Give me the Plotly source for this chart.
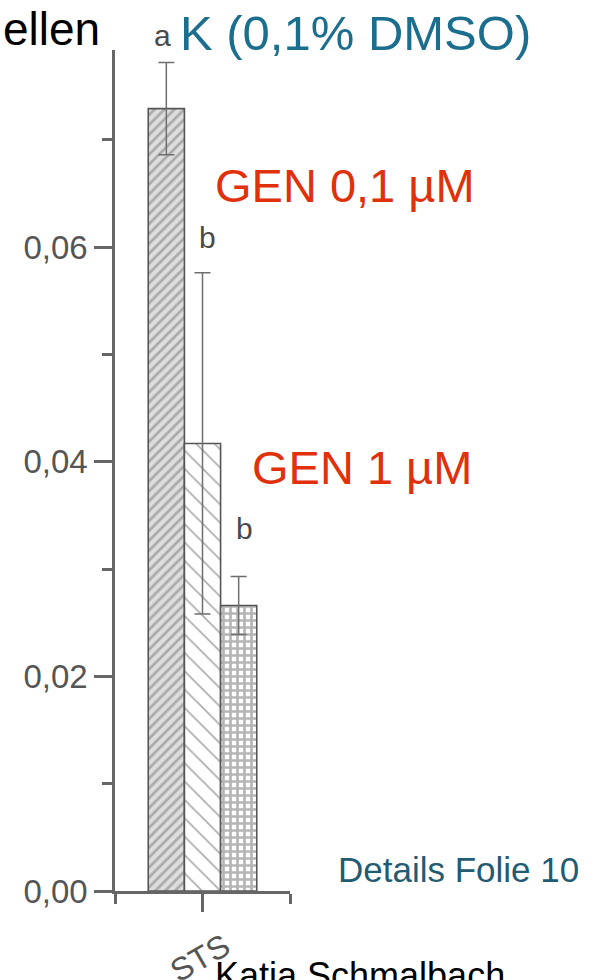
import plotly.graph_objects as go

# ---- data -------------------------------------------------------------
categories = ["STS"]
groups = ["K (0,1% DMSO)", "GEN 0,1 µM", "GEN 1 µM"]
means = [0.0729, 0.0417, 0.0266]
errors = [0.0043, 0.0159, 0.0027]
letters = ["a", "b", "b"]
y_ticks = [0.00, 0.02, 0.04, 0.06]

# ---- styling ----------------------------------------------------------
W, H = 596, 980
M = dict(l=115, r=306, t=50, b=89)
AXIS = "#666666"
FONT = "Liberation Sans, Arial, sans-serif"
TEAL = "#1b6e8d"
DARK_TEAL = "#235b72"
RED = "#e0310b"

patterns = [
    dict(shape="/", fgcolor="#747474", bgcolor="#dedede", size=7, solidity=0.38),
    dict(shape="\\", fgcolor="#555555", bgcolor="#ffffff", size=13, solidity=0.12),
    dict(shape="+", fgcolor="#6c6c6c", bgcolor="#ffffff", size=7, solidity=0.62),
]

x_pos = list(range(len(categories)))

fig = go.Figure()
for name, m, e, pat in zip(groups, means, errors, patterns):
    fig.add_trace(go.Bar(
        name=name,
        x=x_pos,
        y=[m],
        marker=dict(color=pat["bgcolor"], pattern=pat,
                    line=dict(color="#555555", width=1.6)),
        error_y=dict(type="data", array=[e], visible=True,
                     color="#6e6e6e", thickness=1.5, width=8),
        showlegend=False,
    ))

# convert canvas pixels to paper coordinates
pw = W - M["l"] - M["r"]
ph = H - M["t"] - M["b"]


def px(x):
    return (x - M["l"]) / pw


def py(y):
    return (H - M["b"] - y) / ph


# significance letters above each error bar
n = len(groups)
group_w = 1 - 0.38
letter_dx = [-4, 5, 6]
letter_dy = [8, 17, 30]
annotations = []
for i, (m, e, lt) in enumerate(zip(means, errors, letters)):
    offset = -group_w / 2 + group_w / n * (i + 0.5)
    annotations.append(dict(
        x=x_pos[0] + offset, y=m + e, xref="x", yref="y", text=lt,
        showarrow=False, yanchor="bottom", xanchor="center",
        xshift=letter_dx[i], yshift=letter_dy[i],
        font=dict(family=FONT, size=30, color="#4a4a4a"),
    ))

labels = [
    ("ellen", 102, 29, "right", 46, "#000000"),
    ("K (0,1% DMSO)", 178, 33, "left", 49, TEAL),
    ("GEN 0,1 µM", 213, 186, "left", 47, RED),
    ("GEN 1 µM", 250, 467, "left", 47, RED),
    ("Details Folie 10", 336, 869, "left", 35, DARK_TEAL),
    ("Katja Schmalbach", 213, 976, "left", 36, "#000000"),
]
for text, x, y, anc, size, col in labels:
    annotations.append(dict(
        x=px(x), y=py(y), xref="paper", yref="paper", text=text,
        showarrow=False, xanchor=anc, yanchor="middle",
        font=dict(family=FONT, size=size, color=col),
    ))

fig.update_layout(
    width=W, height=H, margin=M,
    paper_bgcolor="white", plot_bgcolor="white",
    barmode="group", bargap=0.38, bargroupgap=0,
    separators=",.",
    annotations=annotations,
    font=dict(family=FONT),
)

fig.update_yaxes(
    range=[0, 0.07836], tickvals=y_ticks, tickformat=".2f",
    automargin=False,
    showgrid=False, zeroline=False,
    showline=True, linecolor=AXIS, linewidth=2.5,
    ticks="outside", ticklen=18, tickwidth=2.5, tickcolor=AXIS,
    minor=dict(dtick=0.01, tick0=0, ticks="outside", ticklen=10,
               tickwidth=2.5, tickcolor=AXIS),
    tickfont=dict(family=FONT, size=33, color="#555555"),
)
fig.update_xaxes(
    range=[-0.5, 0.5], tickvals=x_pos, ticktext=categories,
    automargin=False,
    showgrid=False, zeroline=False,
    showline=True, linecolor=AXIS, linewidth=2.5,
    ticks="outside", ticklen=18, tickwidth=2.5, tickcolor=AXIS,
    minor=dict(tickvals=[-0.5, 0.5], ticks="outside", ticklen=10,
               tickwidth=2.5, tickcolor=AXIS),
    tickangle=-30, ticklabelshift=22, ticklabelstandoff=4,
    tickfont=dict(family=FONT, size=32, color="#555555"),
)

fig.write_html("out.html")
